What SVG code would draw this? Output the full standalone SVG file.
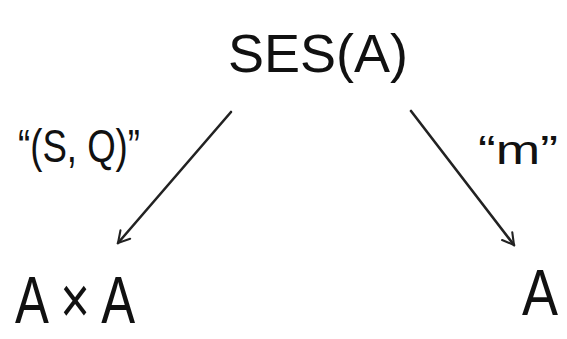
<svg xmlns="http://www.w3.org/2000/svg" width="567" height="339" viewBox="0 0 567 339">
<style>
.t{font-family:"Liberation Sans",Arial,sans-serif;fill:#111;font-weight:normal}
.c{fill:none;stroke:#222;stroke-width:2.6;stroke-linecap:round}
</style>
<defs>
<marker id="ah" viewBox="0 0 20 20" refX="18" refY="10" markerWidth="16" markerHeight="16" markerUnits="userSpaceOnUse" orient="auto">
<path d="M4,2 L18,10 L4,18" fill="none" stroke="#222" stroke-width="2.6" stroke-linecap="round"/>
</marker>
</defs>
<rect width="567" height="339" fill="#fff"/>
<g id="ses">
<text class="t" x="228" y="72" font-size="54" textLength="180" lengthAdjust="spacingAndGlyphs">SES(A)</text>
</g>
<g id="axa">
<text class="t" x="15" y="323" font-size="66" textLength="120" lengthAdjust="spacingAndGlyphs">A × A</text>
</g>
<g id="a">
<text class="t" x="522" y="315" font-size="64" textLength="36" lengthAdjust="spacingAndGlyphs">A</text>
</g>
<g id="connectors">
<path class="c" d="M231,112 L118,243" marker-end="url(#ah)"/>
<path class="c" d="M411,111 L514,245" marker-end="url(#ah)"/>
<text class="t" x="18" y="162" font-size="46" textLength="122" lengthAdjust="spacingAndGlyphs">“(S, Q)”</text>
<text class="t" x="478" y="164" font-size="40" textLength="80" lengthAdjust="spacingAndGlyphs">“m”</text>
</g>
</svg>
